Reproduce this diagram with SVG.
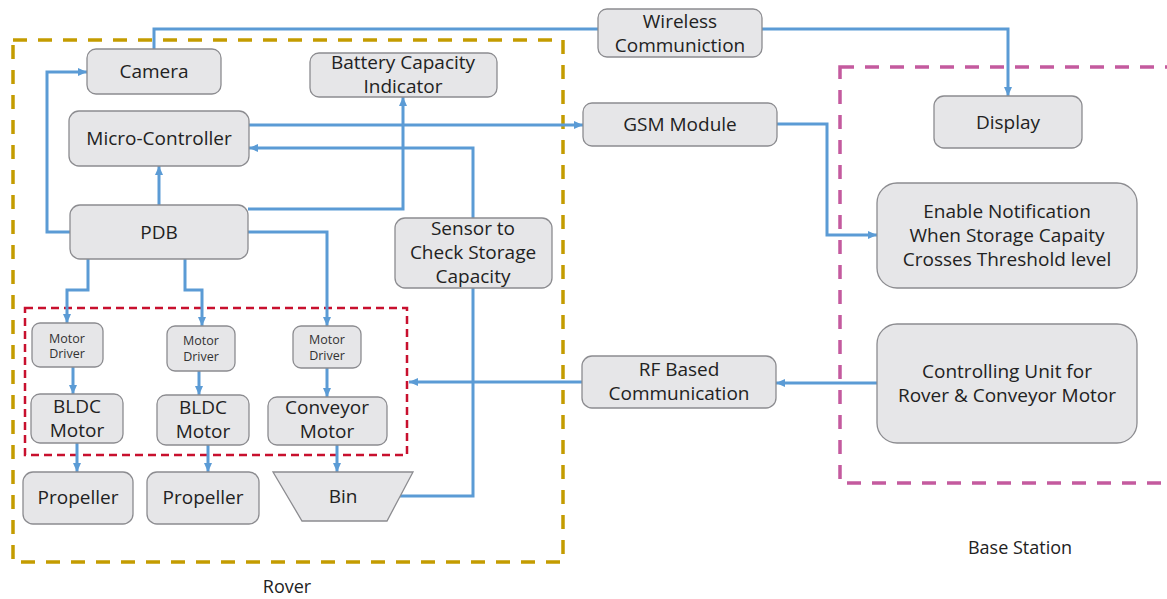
<svg xmlns="http://www.w3.org/2000/svg" width="1167" height="599" viewBox="0 0 1167 599">
<style>
.n{fill:#e6e6e8;stroke:#8c8c90;stroke-width:1.3}
.t{font-family:"Open Sans","Liberation Sans",sans-serif;font-size:19px;fill:#222;text-anchor:middle}
.s{font-family:"Open Sans","Liberation Sans",sans-serif;font-size:12.5px;fill:#333;text-anchor:middle}
.c{fill:none;stroke:#5b9bd5;stroke-width:3}
.a{marker-end:url(#ar)}
</style>
<defs>
<marker id="ar" markerUnits="userSpaceOnUse" markerWidth="10" markerHeight="10" refX="9" refY="5" orient="auto">
<path d="M0,1 L9,5 L0,9 Z" fill="#5b9bd5"/>
</marker>
</defs>
<rect width="1167" height="599" fill="#fff"/>
<g id="containers">
<rect x="13" y="40" width="550" height="522" fill="none" stroke="#c49c00" stroke-width="3.5" stroke-dasharray="14,11"/>
<rect x="840" y="67" width="340" height="416" fill="none" stroke="#c45a9e" stroke-width="3.5" stroke-dasharray="14,11"/>
<rect x="25" y="308" width="382" height="147" fill="none" stroke="#c8102e" stroke-width="2.5" stroke-dasharray="8,5"/>
</g>
<g id="connectors">
<path class="c" d="M154,49 V29 H598"/>
<path class="c a" d="M762,29 H1008 V96"/>
<path class="c a" d="M70,232 H47 V72 H87"/>
<path class="c a" d="M159,205 V166"/>
<path class="c a" d="M248,209 H403 V97"/>
<path class="c a" d="M249,125 H583"/>
<path class="c a" d="M473,218 V148 H249"/>
<path class="c" d="M400,496 H473 V288"/>
<path class="c a" d="M88,259 V290 H67 V323"/>
<path class="c a" d="M185,259 V290 H202 V326"/>
<path class="c a" d="M248,232 H327 V326"/>
<path class="c a" d="M73,367 V394"/>
<path class="c a" d="M199,371 V395"/>
<path class="c a" d="M327,368 V397"/>
<path class="c a" d="M77,443 V472"/>
<path class="c a" d="M208,445 V472"/>
<path class="c a" d="M337,445 V472"/>
<path class="c a" d="M777,124 H827 V235 H877"/>
<path class="c a" d="M877,383 H776"/>
<path class="c a" d="M582,382 H409"/>
</g>
<g id="camera"><rect class="n" x="87" y="49" width="134" height="45" rx="9"/><text class="t" x="154" y="78">Camera</text></g>
<g id="battery"><rect class="n" x="310" y="53" width="187" height="44" rx="9"/><text class="t" x="403" y="69">Battery Capacity</text><text class="t" x="403" y="93">Indicator</text></g>
<g id="micro"><rect class="n" x="69" y="111" width="180" height="55" rx="10"/><text class="t" x="159" y="145">Micro-Controller</text></g>
<g id="pdb"><rect class="n" x="70" y="205" width="178" height="54" rx="10"/><text class="t" x="159" y="239">PDB</text></g>
<g id="sensor"><rect class="n" x="395" y="218" width="157" height="70" rx="10"/><text class="t" x="473" y="235">Sensor to</text><text class="t" x="473" y="259">Check Storage</text><text class="t" x="473" y="283">Capacity</text></g>
<g id="wireless"><rect class="n" x="598" y="9" width="164" height="48" rx="9"/><text class="t" x="680" y="28">Wireless</text><text class="t" x="680" y="52">Communiction</text></g>
<g id="gsm"><rect class="n" x="583" y="103" width="194" height="43" rx="9"/><text class="t" x="680" y="131">GSM Module</text></g>
<g id="display"><rect class="n" x="934" y="96" width="148" height="52" rx="10"/><text class="t" x="1008" y="129">Display</text></g>
<g id="notify"><rect class="n" x="877" y="183" width="260" height="105" rx="20"/><text class="t" x="1007" y="218">Enable Notification</text><text class="t" x="1007" y="242">When Storage Capaity</text><text class="t" x="1007" y="266">Crosses Threshold level</text></g>
<g id="control"><rect class="n" x="877" y="324" width="260" height="119" rx="20"/><text class="t" x="1007" y="378">Controlling Unit for</text><text class="t" x="1007" y="402">Rover &amp; Conveyor Motor</text></g>
<g id="rf"><rect class="n" x="582" y="356" width="194" height="52" rx="10"/><text class="t" x="679" y="376">RF Based</text><text class="t" x="679" y="400">Communication</text></g>
<g id="md1"><rect class="n" x="32" y="323" width="71" height="44" rx="8"/><text class="s" x="67" y="343">Motor</text><text class="s" x="67" y="358">Driver</text></g>
<g id="md2"><rect class="n" x="167" y="326" width="68" height="45" rx="8"/><text class="s" x="201" y="345">Motor</text><text class="s" x="201" y="361">Driver</text></g>
<g id="md3"><rect class="n" x="293" y="326" width="68" height="42" rx="8"/><text class="s" x="327" y="344">Motor</text><text class="s" x="327" y="360">Driver</text></g>
<g id="bldc1"><rect class="n" x="31" y="394" width="92" height="49" rx="9"/><text class="t" x="77" y="413">BLDC</text><text class="t" x="77" y="437">Motor</text></g>
<g id="bldc2"><rect class="n" x="157" y="395" width="92" height="50" rx="9"/><text class="t" x="203" y="414">BLDC</text><text class="t" x="203" y="438">Motor</text></g>
<g id="conveyor"><rect class="n" x="268" y="397" width="119" height="48" rx="9"/><text class="t" x="327" y="414">Conveyor</text><text class="t" x="327" y="438">Motor</text></g>
<g id="prop1"><rect class="n" x="23" y="472" width="110" height="52" rx="10"/><text class="t" x="78" y="504">Propeller</text></g>
<g id="prop2"><rect class="n" x="147" y="472" width="112" height="52" rx="10"/><text class="t" x="203" y="504">Propeller</text></g>
<g id="bin"><path class="n" d="M273,472 H413 L387,521 H302 Z"/><text class="t" x="343" y="503">Bin</text></g>
<g id="labels"><text class="t" x="287" y="593" style="font-size:18px">Rover</text><text class="t" x="1020" y="554" style="font-size:18px">Base Station</text></g>
</svg>
